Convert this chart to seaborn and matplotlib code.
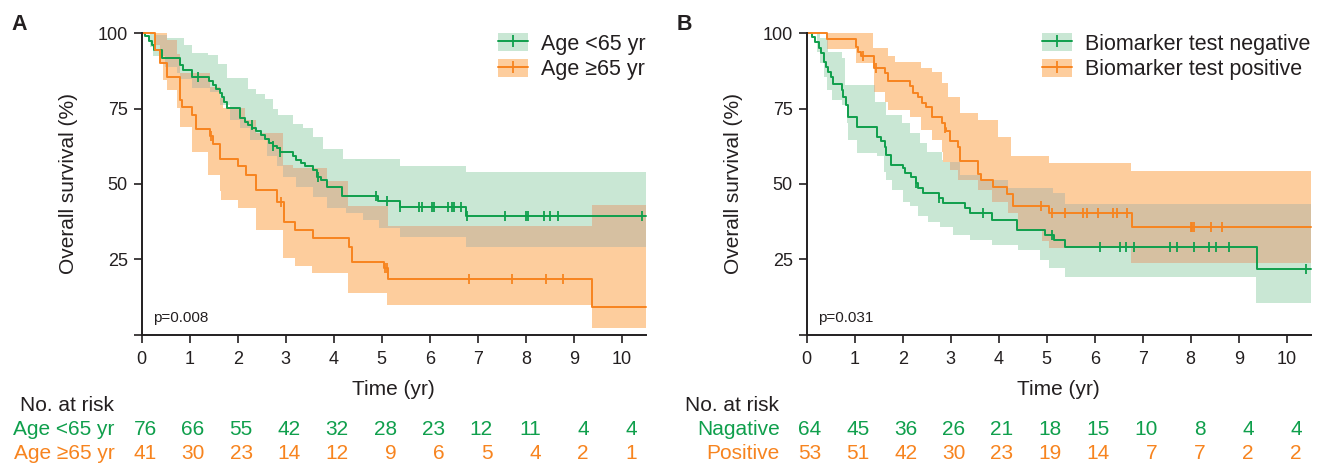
import numpy as np
import pandas as pd
import matplotlib
matplotlib.use('Agg')
import matplotlib.pyplot as plt
import matplotlib.transforms as mtransforms
from matplotlib.patches import Patch
from matplotlib.lines import Line2D
import seaborn as sns

# ---------------- data ----------------
END_TIME = 10.5
risk_times = list(range(11))

# Panel A, age < 65 yr
a_young_t = [0, 0.07, 0.15, 0.22, 0.26, 0.43, 0.80, 0.85, 1.04, 1.40, 1.49, 1.55, 1.62, 1.68,
             1.72, 1.77, 2.05, 2.15, 2.22, 2.30, 2.39, 2.48, 2.57, 2.66, 2.73, 2.81, 2.88, 3.15,
             3.22, 3.31, 3.40, 3.57, 3.65, 3.74, 3.85, 4.17, 4.92, 5.37, 6.76]
a_young_s = [100, 99.0, 97.6, 96.2, 94.6, 91.9, 89.5, 87.8, 85.4, 84.0, 82.9, 81.4, 80.3, 79.0,
             77.3, 75.1, 71.8, 70.7, 69.6, 68.5, 67.4, 66.3, 64.8, 63.7, 62.6, 61.8, 60.7, 59.1,
             58.0, 56.9, 55.8, 54.6, 52.4, 51.3, 49.1, 46.0, 44.4, 42.3, 39.4]
a_young_cens = [1.18, 2.29, 2.74, 2.89, 3.68, 4.89, 5.10, 5.37, 5.78, 5.83, 6.05, 6.08, 6.38,
                6.47, 6.50, 6.66, 6.78, 7.56, 8.01, 8.04, 8.37, 8.51, 8.67, 10.42]
a_young_hi_t = [0, 0.30, 0.52, 0.87, 1.04, 1.39, 1.59, 1.77, 2.22, 2.39, 2.57, 2.74, 2.84, 3.15,
                3.36, 3.57, 3.78, 4.19, 5.37, 6.76]
a_young_hi = [100, 99.5, 98.3, 96.1, 93.6, 92.7, 89.9, 85.0, 81.6, 79.8, 78.3, 75.0, 72.8, 70.0,
              68.7, 65.6, 61.7, 58.3, 56.1, 53.9]
a_young_lo_t = [0, 0.17, 0.24, 0.49, 0.73, 0.80, 1.04, 1.42, 1.63, 1.84, 2.05, 2.25, 2.60, 2.81,
                2.95, 3.22, 3.57, 3.85, 4.26, 4.61, 4.95, 5.37, 6.76]
a_young_lo = [100, 95.6, 92.3, 88.9, 86.7, 84.7, 81.7, 80.6, 76.2, 71.2, 68.5, 64.6, 59.1, 55.8,
              52.4, 49.1, 45.8, 41.9, 40.3, 38.0, 35.5, 32.5, 29.2]

# Panel A, age >= 65 yr
a_old_t = [0, 0.28, 0.37, 0.53, 0.80, 0.83, 1.04, 1.12, 1.42, 1.48, 1.64, 2.00, 2.18, 2.39,
           2.82, 2.96, 3.20, 3.56, 4.31, 4.39, 5.05, 5.13, 9.38]
a_old_s = [100, 94.5, 90.3, 85.4, 77.9, 75.4, 72.9, 68.1, 65.9, 63.3, 58.2, 55.8, 53.0, 48.0,
           44.1, 37.5, 34.7, 32.0, 29.2, 24.2, 22.0, 18.4, 9.3]
a_old_cens = [1.44, 2.91, 5.06, 5.10, 6.82, 7.72, 8.43, 8.77]
a_old_hi_t = [0, 0.52, 0.73, 0.80, 1.42, 1.63, 1.70, 2.15, 2.39, 2.95, 3.15, 3.85, 4.30, 5.13, 9.38]
a_old_hi = [100, 97.8, 93.0, 86.7, 82.3, 78.4, 75.1, 71.2, 66.8, 56.3, 55.2, 50.8, 42.5, 36.1, 43.0]
a_old_lo_t = [0, 0.28, 0.38, 0.45, 0.52, 0.73, 0.80, 1.04, 1.37, 1.63, 1.66, 2.01, 2.39, 2.95,
              3.19, 3.54, 4.30, 5.10, 9.38]
a_old_lo = [100, 96.0, 90.0, 84.5, 81.2, 75.1, 69.0, 60.7, 53.0, 47.5, 44.7, 41.9, 34.7, 25.3,
            22.6, 20.4, 13.7, 9.7, 2.1]

# Panel B, biomarker negative
b_neg_t = [0, 0.10, 0.17, 0.26, 0.30, 0.35, 0.40, 0.45, 0.51, 0.55, 0.73, 0.76, 0.81, 0.85, 1.04,
           1.46, 1.55, 1.63, 1.66, 1.75, 2.01, 2.05, 2.18, 2.27, 2.32, 2.43, 2.75, 2.84, 3.29,
           3.40, 3.85, 4.39, 4.96, 5.15, 5.37, 9.38]
b_neg_s = [100, 98.7, 97.2, 95.0, 93.4, 90.6, 88.9, 87.3, 85.4, 83.2, 81.2, 79.0, 76.2, 72.3, 68.8,
           65.7, 64.4, 62.4, 59.6, 56.3, 55.2, 53.5, 52.4, 50.2, 48.6, 46.9, 45.2, 43.6, 41.9,
           40.3, 38.1, 34.7, 33.1, 31.4, 28.9, 21.7]
b_neg_cens = [2.27, 2.75, 3.68, 5.11, 6.10, 6.52, 6.66, 6.81, 7.57, 7.71, 8.06, 8.38, 8.53, 8.79, 10.40]
b_neg_hi_t = [0, 0.28, 0.45, 0.73, 0.80, 1.42, 1.66, 1.98, 2.15, 2.36, 2.50, 2.81, 2.84, 3.19,
              3.61, 4.20, 5.13, 5.37]
b_neg_hi = [100, 98.3, 93.9, 91.7, 82.9, 77.3, 72.9, 70.1, 66.8, 63.5, 60.7, 58.0, 57.4, 53.0,
            51.3, 48.6, 46.9, 43.3]
b_neg_lo_t = [0, 0.21, 0.28, 0.35, 0.42, 0.52, 0.73, 0.83, 0.87, 1.04, 1.46, 1.60, 1.66, 1.77,
              2.01, 2.15, 2.32, 2.53, 2.77, 3.05, 3.40, 3.85, 4.40, 4.85, 5.05, 5.37, 9.36]
b_neg_lo = [100, 93.9, 90.0, 85.6, 81.2, 77.9, 76.2, 70.1, 64.6, 60.4, 59.1, 54.1, 51.3, 48.0,
            44.1, 42.5, 39.2, 37.5, 35.8, 33.1, 31.4, 29.8, 28.1, 24.8, 22.0, 19.2, 10.6]

# Panel B, biomarker positive
b_pos_t = [0, 0.42, 1.02, 1.07, 1.14, 1.40, 1.62, 1.69, 2.15, 2.22, 2.32, 2.41, 2.48, 2.60, 2.81,
           2.88, 2.91, 2.98, 3.16, 3.20, 3.57, 3.64, 3.88, 4.17, 4.30, 5.05, 6.78]
b_pos_s = [100, 98.0, 95.6, 93.9, 92.5, 88.6, 86.7, 84.3, 82.5, 80.3, 78.8, 76.8, 75.4, 72.3, 70.1,
           68.5, 67.4, 64.4, 62.2, 57.7, 53.3, 51.3, 49.1, 46.7, 42.5, 40.5, 35.8]
b_pos_cens = [1.18, 1.44, 2.88, 4.89, 5.10, 5.37, 5.76, 5.83, 6.07, 6.39, 6.46, 6.67, 8.00, 8.03,
              8.06, 8.43, 8.65]
b_pos_hi_t = [0, 1.39, 1.70, 1.84, 2.39, 2.60, 2.81, 2.95, 3.19, 3.57, 3.99, 4.26, 5.05, 6.76]
b_pos_hi = [100, 95.0, 92.5, 90.6, 88.5, 87.3, 83.4, 79.0, 73.5, 71.2, 65.7, 59.1, 56.9, 54.4]
b_pos_lo_t = [0, 0.42, 1.02, 1.40, 1.63, 1.70, 2.15, 2.39, 2.60, 2.81, 2.84, 2.98, 3.16, 3.57,
              3.85, 4.20, 4.40, 4.90, 5.05, 6.76]
b_pos_lo = [100, 94.7, 90.0, 80.6, 77.3, 74.6, 72.3, 67.9, 64.6, 60.7, 57.4, 54.5, 51.3, 48.0,
            44.0, 40.3, 34.7, 30.9, 28.6, 23.9]

# numbers at risk
a_young_risk = [76, 66, 55, 42, 32, 28, 23, 12, 11, 4, 4]
a_old_risk = [41, 30, 23, 14, 12, 9, 6, 5, 4, 2, 1]
b_neg_risk = [64, 45, 36, 26, 21, 18, 15, 10, 8, 4, 4]
b_pos_risk = [53, 51, 42, 30, 23, 19, 14, 7, 7, 2, 2]

# ---------------- style ----------------
GREEN = '#0f9f4c'
ORANGE = '#f7841f'
GREEN_FILL = '#c9e7d4'
ORANGE_FILL = '#fdcd9d'
BOTH_FILL = '#d6c0a1'
INK = '#231f20'

sns.set_theme(style='ticks')
plt.rcParams['font.family'] = ['Liberation Sans', 'DejaVu Sans']
plt.rcParams['text.color'] = INK
plt.rcParams['axes.labelcolor'] = INK
plt.rcParams['xtick.color'] = INK
plt.rcParams['ytick.color'] = INK


def step_at(knots_t, knots_v, t):
    idx = np.searchsorted(np.asarray(knots_t), np.asarray(t), side='right') - 1
    return np.asarray(knots_v, dtype=float)[idx]


def band(lo_t, lo, hi_t, hi):
    grid = np.unique(np.concatenate([lo_t, hi_t, [END_TIME]]))
    return grid, step_at(lo_t, lo, grid), step_at(hi_t, hi, grid)


def draw_panel(ax, first, second, names, risk_names, pval, letter):
    # confidence bands (overlap drawn in its own shade)
    g1, lo1, hi1 = band(first['lo_t'], first['lo'], first['hi_t'], first['hi'])
    g2, lo2, hi2 = band(second['lo_t'], second['lo'], second['hi_t'], second['hi'])
    grid = np.unique(np.concatenate([g1, g2]))
    lo1 = step_at(g1, lo1, grid); hi1 = step_at(g1, hi1, grid)
    lo2 = step_at(g2, lo2, grid); hi2 = step_at(g2, hi2, grid)
    ax.fill_between(grid, lo1, hi1, step='post', color=GREEN_FILL, lw=0)
    ax.fill_between(grid, lo2, hi2, step='post', color=ORANGE_FILL, lw=0)
    ov_lo = np.maximum(lo1, lo2)
    ov_hi = np.maximum(np.minimum(hi1, hi2), ov_lo)
    ax.fill_between(grid, ov_lo, ov_hi, step='post', color=BOTH_FILL, lw=0)

    for grp, col in [(first, GREEN), (second, ORANGE)]:
        df = pd.DataFrame({'time': list(grp['t']) + [END_TIME],
                           'surv': list(grp['s']) + [grp['s'][-1]]})
        sns.lineplot(data=df, x='time', y='surv', ax=ax, color=col, lw=1.4,
                     drawstyle='steps-post', errorbar=None, clip_on=False)
        cens = pd.DataFrame({'time': grp['cens'],
                             'surv': step_at(grp['t'], grp['s'], grp['cens'])})
        sns.scatterplot(data=cens, x='time', y='surv', ax=ax, color=col, marker='|',
                        s=60, linewidth=1.3, clip_on=False, zorder=4)

    ax.set_xlim(0, END_TIME)
    ax.set_ylim(0, 100)
    ax.set_xticks(range(11))
    ax.set_yticks([0, 25, 50, 75, 100])
    ax.set_yticklabels(['', '25', '50', '75', '100'])
    ax.tick_params(labelsize=13, length=6, width=1.2, pad=4)
    ax.tick_params(axis='x', pad=6)
    for sp in ['left', 'bottom']:
        ax.spines[sp].set_linewidth(1.4)
        ax.spines[sp].set_color(INK)
    sns.despine(ax=ax)
    ax.set_xlabel('Time (yr)', fontsize=15)
    ax.set_ylabel('Overall survival (%)', fontsize=15)
    ax.xaxis.set_label_coords(0.5, -0.15)
    ax.yaxis.set_label_coords(-0.127, 0.5)

    ax.text(0.23, 5.5, pval, fontsize=11, va='center', ha='left')

    handles = [(Patch(facecolor=GREEN_FILL, lw=0),
                Line2D([], [], color=GREEN, lw=1.4, marker='|', markersize=8, mew=1.3)),
               (Patch(facecolor=ORANGE_FILL, lw=0),
                Line2D([], [], color=ORANGE, lw=1.4, marker='|', markersize=8, mew=1.3))]
    ax.legend(handles, names, loc='upper right', bbox_to_anchor=(1.0, 1.0),
              frameon=False, fontsize=15.5, handlelength=1.4, handleheight=0.9,
              handletextpad=0.6, labelspacing=0.2, borderpad=0, borderaxespad=0)

    # number at risk table
    tr = mtransforms.blended_transform_factory(ax.transData, ax.figure.transFigure)
    ax.text(-2.53, 0.127, 'No. at risk', transform=tr, fontsize=15, ha='left', va='center')
    rows = [(risk_names[0], first['risk'], GREEN, 0.076),
            (risk_names[1], second['risk'], ORANGE, 0.024)]
    for lab, vals, col, yy in rows:
        ax.text(-0.56, yy, lab, transform=tr, fontsize=15, ha='right', va='center', color=col)
        for t, n in zip(risk_times, vals):
            ax.text(t + 0.31, yy, str(n), transform=tr, fontsize=15, ha='right',
                    va='center', color=col)

    ax.figure.text(ax.get_position().x0 - 0.098, 0.948, letter, fontsize=15.5,
                   fontweight='bold', ha='left', va='center')


fig = plt.figure(figsize=(13.26, 4.65), dpi=100)
ax_a = fig.add_axes([0.1069, 0.2806, 0.3801, 0.6478])
ax_b = fig.add_axes([0.6084, 0.2806, 0.3801, 0.6478])

draw_panel(ax_a,
           dict(t=a_young_t, s=a_young_s, cens=a_young_cens, lo_t=a_young_lo_t, lo=a_young_lo,
                hi_t=a_young_hi_t, hi=a_young_hi, risk=a_young_risk),
           dict(t=a_old_t, s=a_old_s, cens=a_old_cens, lo_t=a_old_lo_t, lo=a_old_lo,
                hi_t=a_old_hi_t, hi=a_old_hi, risk=a_old_risk),
           ['Age <65 yr', 'Age \u226565 yr'], ['Age <65 yr', 'Age \u226565 yr'],
           'p=0.008', 'A')
draw_panel(ax_b,
           dict(t=b_neg_t, s=b_neg_s, cens=b_neg_cens, lo_t=b_neg_lo_t, lo=b_neg_lo,
                hi_t=b_neg_hi_t, hi=b_neg_hi, risk=b_neg_risk),
           dict(t=b_pos_t, s=b_pos_s, cens=b_pos_cens, lo_t=b_pos_lo_t, lo=b_pos_lo,
                hi_t=b_pos_hi_t, hi=b_pos_hi, risk=b_pos_risk),
           ['Biomarker test negative', 'Biomarker test positive'], ['Nagative', 'Positive'],
           'p=0.031', 'B')

fig.savefig('out.png', dpi=100)
